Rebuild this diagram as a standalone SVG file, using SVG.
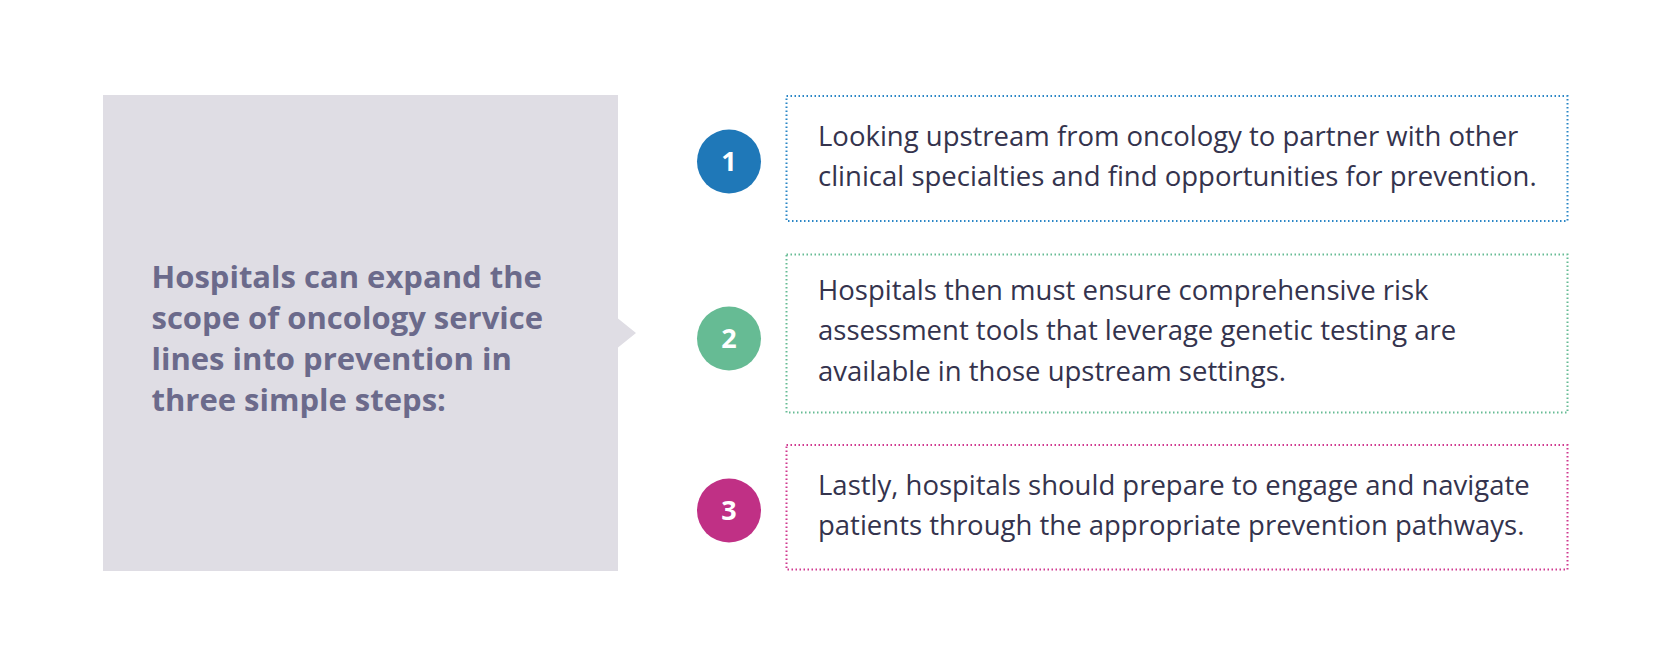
<svg xmlns="http://www.w3.org/2000/svg" width="1679" height="671" viewBox="0 0 1679 671">
<style>
.lead{font-family:"Open Sans","Noto Sans",sans-serif;font-weight:700;font-size:31px;fill:#6b6a8b}
.step{font-family:"Open Sans","Noto Sans",sans-serif;font-size:27.5px;fill:#34334d}
.num{font-family:"Open Sans","Noto Sans",sans-serif;font-weight:700;font-size:27px;fill:#ffffff;text-anchor:middle}
.frame{fill:none;stroke-width:2;stroke-dasharray:1.5 2.5}
</style>
<rect width="1679" height="671" fill="#ffffff"/>
<g id="intro">
<path d="M103 95 H618 V318.5 L636 333 L618 347.5 V571 H103 Z" fill="#dfdde4"/>
<text class="lead"><tspan x="151.5" y="288">Hospitals can expand the</tspan><tspan x="151.5" y="329">scope of oncology service</tspan><tspan x="151.5" y="370">lines into prevention in</tspan><tspan x="151.5" y="411">three simple steps:</tspan></text>
</g>
<g id="connectors"></g>
<g id="step1">
<rect class="frame" x="786.5" y="96" width="781" height="125" stroke="#2a86c6"/>
<circle cx="729" cy="161.5" r="32" fill="#1f78b8"/>
<text class="num" x="729" y="171">1</text>
<text class="step"><tspan x="818" y="146">Looking upstream from oncology to partner with other</tspan><tspan x="818" y="186">clinical specialties and find opportunities for prevention.</tspan></text>
</g>
<g id="step2">
<rect class="frame" x="786.5" y="254.5" width="781" height="158" stroke="#66bb94"/>
<circle cx="729" cy="338.5" r="32" fill="#66bb94"/>
<text class="num" x="729" y="348">2</text>
<text class="step"><tspan x="818" y="299.5">Hospitals then must ensure comprehensive risk</tspan><tspan x="818" y="340">assessment tools that leverage genetic testing are</tspan><tspan x="818" y="380.5">available in those upstream settings.</tspan></text>
</g>
<g id="step3">
<rect class="frame" x="786.5" y="445" width="781" height="124.5" stroke="#d0398f"/>
<circle cx="729" cy="510.5" r="32" fill="#c03085"/>
<text class="num" x="729" y="520">3</text>
<text class="step"><tspan x="818" y="495">Lastly, hospitals should prepare to engage and navigate</tspan><tspan x="818" y="534.5">patients through the appropriate prevention pathways.</tspan></text>
</g>
</svg>
